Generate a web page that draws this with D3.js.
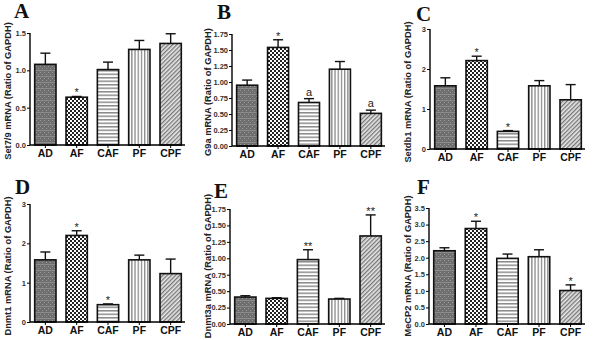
<!DOCTYPE html>
<html>
<head>
<meta charset="utf-8">
<script src="https://cdn.jsdelivr.net/npm/d3@7"></script>
<style>
  body { margin: 0; background: #fff; }
  .sans { font-family: "Liberation Sans", Arial, sans-serif; }
  .letter { font-family: "Liberation Serif", "Times New Roman", serif; }
</style>
</head>
<body>
<div id="chart"></div>
<script>
// groups on the x axis
var categories = ["AD", "AF", "CAF", "PF", "CPF"];

// A - Set7/9
var set79Mean = [1.08, 0.64, 1.01, 1.28, 1.36];
var set79Err = [0.15, 0.01, 0.10, 0.12, 0.13];
var set79Mark = ["", "*", "", "", ""];
var set79Ticks = [0, 0.5, 1.0, 1.5];

// B - G9a
var g9aMean = [0.95, 1.54, 0.68, 1.20, 0.51];
var g9aErr = [0.08, 0.12, 0.06, 0.12, 0.05];
var g9aMark = ["", "*", "a", "", "a"];
var g9aTicks = [0, 0.25, 0.5, 0.75, 1.0, 1.25, 1.5, 1.75];

// C - Setdb1
var setdb1Mean = [1.58, 2.21, 0.44, 1.58, 1.23];
var setdb1Err = [0.20, 0.11, 0.02, 0.13, 0.38];
var setdb1Mark = ["", "*", "*", "", ""];
var setdb1Ticks = [0, 1, 2, 3];

// D - Dnmt1
var dnmt1Mean = [1.58, 2.20, 0.44, 1.58, 1.23];
var dnmt1Err = [0.20, 0.12, 0.02, 0.12, 0.37];
var dnmt1Mark = ["", "*", "*", "", ""];
var dnmt1Ticks = [0, 1, 2, 3];

// E - Dnmt3a
var dnmt3aMean = [0.41, 0.39, 0.98, 0.38, 1.34];
var dnmt3aErr = [0.02, 0.01, 0.15, 0.01, 0.32];
var dnmt3aMark = ["", "", "**", "", "**"];
var dnmt3aTicks = [0, 0.25, 0.5, 0.75, 1.0, 1.25, 1.5, 1.75];

// F - MeCP2
var mecp2Mean = [2.21, 2.88, 1.98, 2.03, 1.01];
var mecp2Err = [0.09, 0.22, 0.13, 0.21, 0.17];
var mecp2Mark = ["", "*", "", "", "*"];
var mecp2Ticks = [0, 0.5, 1.0, 1.5, 2.0, 2.5, 3.0, 3.5];

var panels = [
  { letter: "A", label: "Set7/9 mRNA (Ratio of GAPDH)", mean: set79Mean, err: set79Err, mark: set79Mark, ticks: set79Ticks, fmt: ".1f",
    ox: 0, oy: 0, left: 30, top: 33, bottom: 145, lx: 14, ly: 18, labelY: 91 },
  { letter: "B", label: "G9a mRNA (Ratio of GAPDH)", mean: g9aMean, err: g9aErr, mark: g9aMark, ticks: g9aTicks, fmt: ".2f",
    ox: 200, oy: 0, left: 32, top: 34, bottom: 146, lx: 17, ly: 19, labelY: 92 },
  { letter: "C", label: "Setdb1 mRNA (Ratio of GAPDH)", mean: setdb1Mean, err: setdb1Err, mark: setdb1Mark, ticks: setdb1Ticks, fmt: "d",
    ox: 400, oy: 0, left: 30, top: 29, bottom: 149, lx: 16, ly: 21, labelY: 92 },
  { letter: "D", label: "Dnmt1 mRNA (Ratio of GAPDH)", mean: dnmt1Mean, err: dnmt1Err, mark: dnmt1Mark, ticks: dnmt1Ticks, fmt: "d",
    ox: 0, oy: 170, left: 30, top: 34, bottom: 152, lx: 15, ly: 24, labelY: 96 },
  { letter: "E", label: "Dnmt3a mRNA (Ratio of GAPDH)", mean: dnmt3aMean, err: dnmt3aErr, mark: dnmt3aMark, ticks: dnmt3aTicks, fmt: ".2f",
    ox: 200, oy: 170, left: 30, top: 39, bottom: 154, lx: 14, ly: 28, labelY: 96 },
  { letter: "F", label: "MeCP2 mRNA (Ratio of GAPDH)", mean: mecp2Mean, err: mecp2Err, mark: mecp2Mark, ticks: mecp2Ticks, fmt: ".1f",
    ox: 400, oy: 170, left: 29, top: 38, bottom: 154, lx: 17, ly: 24, labelY: 96 }
];

var width = 600, height = 340;
var svg = d3.select("#chart").append("svg").attr("width", width).attr("height", height).attr("class", "sans");

// fill patterns, one per group
var defs = svg.append("defs");
var pAD = defs.append("pattern").attr("id", "pat-AD").attr("patternUnits", "userSpaceOnUse").attr("width", 4).attr("height", 6);
pAD.append("rect").attr("width", 4).attr("height", 6).attr("fill", "#6e6e6e");
pAD.append("rect").attr("width", 1).attr("height", 1).attr("fill", "#9a9a9a");
pAD.append("rect").attr("x", 2).attr("y", 2).attr("width", 1).attr("height", 1).attr("fill", "#9a9a9a");
pAD.append("rect").attr("y", 4).attr("width", 4).attr("height", 1).attr("fill", "#8c8c8c");

var pAF = defs.append("pattern").attr("id", "pat-AF").attr("patternUnits", "userSpaceOnUse").attr("width", 4).attr("height", 4);
pAF.append("rect").attr("width", 4).attr("height", 4).attr("fill", "#fff");
pAF.append("rect").attr("width", 2).attr("height", 2).attr("fill", "#222");
pAF.append("rect").attr("x", 2).attr("y", 2).attr("width", 2).attr("height", 2).attr("fill", "#222");

var pCAF = defs.append("pattern").attr("id", "pat-CAF").attr("patternUnits", "userSpaceOnUse").attr("width", 4).attr("height", 3.5);
pCAF.append("rect").attr("width", 4).attr("height", 3.5).attr("fill", "#fff");
pCAF.append("rect").attr("width", 4).attr("height", 1.5).attr("fill", "#8a8a8a");

var pPF = defs.append("pattern").attr("id", "pat-PF").attr("patternUnits", "userSpaceOnUse").attr("width", 3.2).attr("height", 4);
pPF.append("rect").attr("width", 3.2).attr("height", 4).attr("fill", "#fff");
pPF.append("rect").attr("width", 1.3).attr("height", 4).attr("fill", "#8a8a8a");

var pCPF = defs.append("pattern").attr("id", "pat-CPF").attr("patternUnits", "userSpaceOnUse").attr("width", 3).attr("height", 3)
  .attr("patternTransform", "rotate(-45)");
pCPF.append("rect").attr("width", 3).attr("height", 3).attr("fill", "#e6e6e6");
pCPF.append("rect").attr("width", 3).attr("height", 1.3).attr("fill", "#777");

panels.forEach(function (p) {
  var g = svg.append("g").attr("transform", "translate(" + p.ox + "," + p.oy + ")");
  var right = 186;

  var x = d3.scaleBand().domain(categories).range([p.left, right]).paddingInner(0.32).paddingOuter(0.15);
  var y = d3.scaleLinear().domain([0, d3.max(p.ticks)]).range([p.bottom, p.top]);

  var data = categories.map(function (c, i) {
    return { cat: c, mean: p.mean[i], err: p.err[i], mark: p.mark[i] };
  });

  // bars
  g.append("g").selectAll("rect").data(data).enter().append("rect")
    .attr("x", function (d) { return x(d.cat); })
    .attr("y", function (d) { return y(d.mean); })
    .attr("width", x.bandwidth())
    .attr("height", function (d) { return y(0) - y(d.mean); })
    .attr("fill", function (d) { return "url(#pat-" + d.cat + ")"; })
    .attr("stroke", "#111")
    .attr("stroke-width", 1.6);

  // error bars (upper only)
  var eb = g.append("g").attr("stroke", "#111").attr("stroke-width", 1.4);
  eb.selectAll("line.v").data(data).enter().append("line").attr("class", "v")
    .attr("x1", function (d) { return x(d.cat) + x.bandwidth() / 2; })
    .attr("x2", function (d) { return x(d.cat) + x.bandwidth() / 2; })
    .attr("y1", function (d) { return y(d.mean); })
    .attr("y2", function (d) { return y(d.mean + d.err); });
  eb.selectAll("line.h").data(data).enter().append("line").attr("class", "h")
    .attr("x1", function (d) { return x(d.cat) + x.bandwidth() / 2 - 5; })
    .attr("x2", function (d) { return x(d.cat) + x.bandwidth() / 2 + 5; })
    .attr("y1", function (d) { return y(d.mean + d.err); })
    .attr("y2", function (d) { return y(d.mean + d.err); });

  // significance marks
  g.append("g").selectAll("text").data(data.filter(function (d) { return d.mark; })).enter().append("text")
    .attr("x", function (d) { return x(d.cat) + x.bandwidth() / 2; })
    .attr("y", function (d) { return y(d.mean + d.err) - (d.mark === "a" ? 3 : 0); })
    .attr("text-anchor", "middle")
    .attr("font-size", 11)
    .attr("fill", "#222")
    .text(function (d) { return d.mark; });

  // axes
  var yAxis = d3.axisLeft(y).tickValues(p.ticks).tickFormat(d3.format(p.fmt)).tickSize(3).tickPadding(1);
  var gy = g.append("g").attr("transform", "translate(" + p.left + ",0)").call(yAxis);
  gy.attr("font-family", null);
  gy.select(".domain").attr("stroke-width", 1.4).attr("d", "M0," + p.top + "V" + p.bottom);
  gy.selectAll("text").attr("font-size", 7.5).attr("font-weight", "bold").attr("fill", "#333");

  var xAxis = d3.axisBottom(x).tickSize(3).tickPadding(2);
  var gx = g.append("g").attr("transform", "translate(0," + p.bottom + ")").call(xAxis);
  gx.attr("font-family", null);
  gx.select(".domain").attr("stroke-width", 1.4).attr("d", "M" + p.left + ",0H" + (right - 1));
  gx.selectAll("text").attr("font-size", 10.5).attr("font-weight", "bold").attr("fill", "#111");

  // y label
  g.append("text")
    .attr("transform", "translate(11," + p.labelY + ") rotate(-90)")
    .attr("text-anchor", "middle")
    .attr("font-size", 9.3)
    .attr("font-weight", "bold")
    .attr("fill", "#222")
    .text(p.label);

  // panel letter
  g.append("text")
    .attr("class", "letter")
    .attr("x", p.lx)
    .attr("y", p.ly)
    .attr("font-weight", "bold")
    .attr("font-size", 21)
    .attr("fill", "#111")
    .text(p.letter);
});
</script>
</body>
</html>
